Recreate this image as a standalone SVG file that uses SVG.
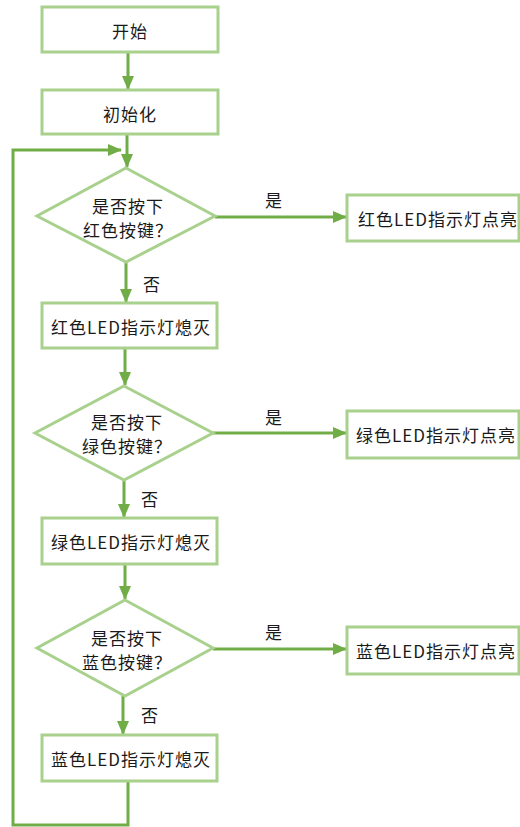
<svg xmlns="http://www.w3.org/2000/svg" width="520" height="827" viewBox="0 0 520 827">
<style>
.box{fill:#fff;stroke:#a9d18e;stroke-width:3}
.t{font-family:"Noto Sans CJK SC","Noto Sans",sans-serif;font-size:17px;letter-spacing:1px;fill:#1a1a1a;text-anchor:middle;dominant-baseline:central}
.c{fill:none;stroke:#70ad47;stroke-width:3}
</style>
<defs>
<marker id="ah" markerUnits="userSpaceOnUse" markerWidth="14" markerHeight="14" viewBox="0 0 14 14" refX="13" refY="7" orient="auto">
<path d="M0,1 L14,7 L0,13 Z" fill="#70ad47"/>
</marker>
</defs>
<rect width="520" height="827" fill="#fff"/>
<g id="connectors">
<line class="c" x1="128" y1="52" x2="128" y2="89" marker-end="url(#ah)"/>
<line class="c" x1="127" y1="134" x2="127" y2="167" marker-end="url(#ah)"/>
<polyline class="c" points="128,781 128,825 13,825 13,150 121,150" marker-end="url(#ah)"/>
<line class="c" x1="126" y1="262" x2="126" y2="302" marker-end="url(#ah)"/>
<line class="c" x1="215" y1="217" x2="346" y2="217" marker-end="url(#ah)"/>
<line class="c" x1="125" y1="348" x2="125" y2="385" marker-end="url(#ah)"/>
<line class="c" x1="213" y1="433" x2="346" y2="433" marker-end="url(#ah)"/>
<line class="c" x1="124" y1="480" x2="124" y2="517" marker-end="url(#ah)"/>
<line class="c" x1="125" y1="565" x2="125" y2="599" marker-end="url(#ah)"/>
<line class="c" x1="213" y1="649" x2="346" y2="649" marker-end="url(#ah)"/>
<line class="c" x1="123" y1="696" x2="123" y2="734" marker-end="url(#ah)"/>
<text class="t" x="274" y="199">是</text>
<text class="t" x="152" y="283">否</text>
<text class="t" x="274" y="416">是</text>
<text class="t" x="150" y="498">否</text>
<text class="t" x="274" y="631">是</text>
<text class="t" x="150" y="714">否</text>
</g>
<g id="start"><rect class="box" x="42" y="7" width="176" height="45"/><text class="t" x="130" y="30">开始</text></g>
<g id="init"><rect class="box" x="42" y="90" width="176" height="44"/><text class="t" x="130" y="113">初始化</text></g>
<g id="d1"><polygon class="box" points="126,168 215,216 126,262 37,216"/><text class="t" x="128" y="205">是否按下</text><text class="t" x="128" y="229">红色按键？</text></g>
<g id="redOn"><rect class="box" x="347" y="195" width="172" height="46"/><text class="t" x="438" y="218">红色LED指示灯点亮</text></g>
<g id="redOff"><rect class="box" x="42" y="303" width="175" height="45"/><text class="t" x="131" y="326">红色LED指示灯熄灭</text></g>
<g id="d2"><polygon class="box" points="124,386 213,433 124,480 35,433"/><text class="t" x="127" y="421">是否按下</text><text class="t" x="127" y="445">绿色按键？</text></g>
<g id="greenOn"><rect class="box" x="347" y="411" width="172" height="47"/><text class="t" x="436" y="434">绿色LED指示灯点亮</text></g>
<g id="greenOff"><rect class="box" x="42" y="518" width="175" height="46"/><text class="t" x="131" y="541">绿色LED指示灯熄灭</text></g>
<g id="d3"><polygon class="box" points="125,600 213,648 125,696 37,648"/><text class="t" x="127" y="637">是否按下</text><text class="t" x="127" y="661">蓝色按键？</text></g>
<g id="blueOn"><rect class="box" x="347" y="627" width="172" height="47"/><text class="t" x="436" y="650">蓝色LED指示灯点亮</text></g>
<g id="blueOff"><rect class="box" x="42" y="735" width="175" height="46"/><text class="t" x="131" y="758">蓝色LED指示灯熄灭</text></g>
</svg>
